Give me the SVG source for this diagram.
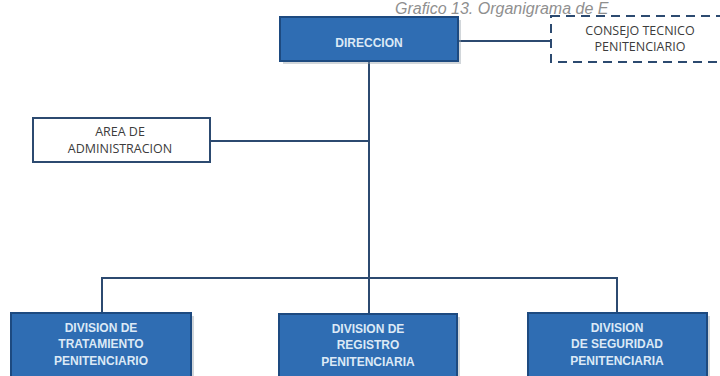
<svg xmlns="http://www.w3.org/2000/svg" width="720" height="376" viewBox="0 0 720 376">
<defs>
<style>
.blue{fill:#2f6db3;stroke:#1d4a80;stroke-width:2}
.shadow{fill:#9aa3ad;opacity:0.45}
.wt{font-family:"Liberation Sans",Arial,sans-serif;font-weight:bold;font-size:12px;fill:#dce9f6;text-anchor:middle}
.gt{font-family:"Open Sans","Liberation Sans",sans-serif;font-size:12.5px;fill:#3c3c3c;text-anchor:middle}
.ln{stroke:#2c4a70;stroke-width:2;fill:none}
</style>
</defs>
<rect width="720" height="376" fill="#ffffff"/>
<text x="395" y="14" font-family="Liberation Sans,Arial,sans-serif" font-style="italic" font-size="16" fill="#8f8f8f">Grafico 13. Organigrama de E</text>
<g id="connectors">
<line class="ln" x1="458" y1="41" x2="551" y2="41"/>
<line class="ln" x1="369" y1="61" x2="369" y2="314"/>
<line class="ln" x1="210" y1="141" x2="369" y2="141"/>
<polyline class="ln" points="102,313 102,278 617,278 617,313"/>
</g>
<g id="direccion">
<rect class="shadow" x="283" y="20" width="178" height="44"/>
<rect class="blue" x="280" y="17" width="178" height="44"/>
<text class="wt" x="369" y="47">DIRECCION</text>
</g>
<g id="consejo">
<rect x="551" y="16" width="180" height="46" fill="#ffffff" stroke="#2c4a70" stroke-width="2" stroke-dasharray="9,6"/>
<text class="gt" x="640" y="35">CONSEJO TECNICO</text>
<text class="gt" x="640" y="51">PENITENCIARIO</text>
</g>
<g id="administracion">
<rect x="33" y="118" width="177" height="44" fill="#ffffff" stroke="#2c4a70" stroke-width="2"/>
<text class="gt" x="120" y="136">AREA  DE</text>
<text class="gt" x="120" y="153">ADMINISTRACION</text>
</g>
<g id="tratamiento">
<rect class="shadow" x="14" y="316" width="180" height="64"/>
<rect class="blue" x="11" y="313" width="180" height="66"/>
<text class="wt" x="101" y="332">DIVISION DE</text>
<text class="wt" x="101" y="348">TRATAMIENTO</text>
<text class="wt" x="101" y="365">PENITENCIARIO</text>
</g>
<g id="registro">
<rect class="shadow" x="282" y="317" width="178" height="64"/>
<rect class="blue" x="279" y="314" width="178" height="66"/>
<text class="wt" x="368" y="333">DIVISION DE</text>
<text class="wt" x="368" y="349">REGISTRO</text>
<text class="wt" x="368" y="366">PENITENCIARIA</text>
</g>
<g id="seguridad">
<rect class="shadow" x="531" y="316" width="179" height="64"/>
<rect class="blue" x="528" y="313" width="179" height="66"/>
<text class="wt" x="617" y="332">DIVISION</text>
<text class="wt" x="617" y="348">DE SEGURIDAD</text>
<text class="wt" x="617" y="365">PENITENCIARIA</text>
</g>
</svg>
